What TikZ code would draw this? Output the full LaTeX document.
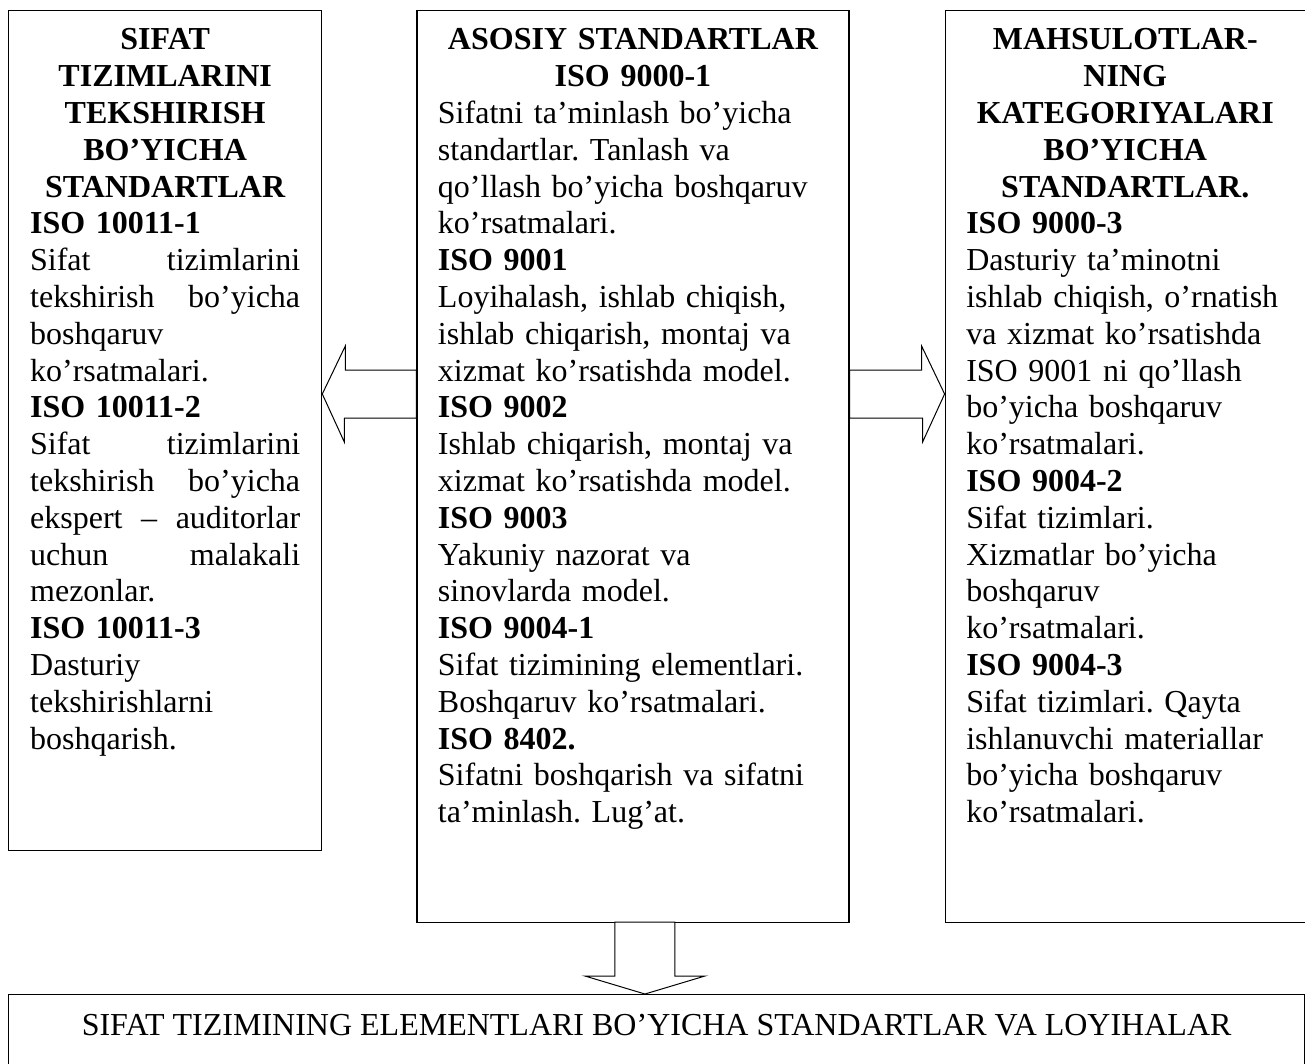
\documentclass[tikz,border=0pt]{standalone}
\usepackage{fontspec}
\setmainfont{Liberation Serif}
\usetikzlibrary{positioning}
\setlength{\parindent}{0pt}
\frenchspacing

\tikzstyle{box} = [draw, rectangle, line width=1.3pt, anchor=north west, inner sep=0pt]
\tikzstyle{txt} = [inner sep=0pt, align=left, font=\fontsize{32pt}{36.8pt}\selectfont]
\tikzstyle{blockarrow} = [draw, line width=1pt, fill=white]

\begin{document}
\begin{tikzpicture}[x=1pt, y=-1pt]
      \path [use as bounding box, clip] (0,0) rectangle (1305,1064);
      % Place boxes
      \node [box, minimum width=313, minimum height=840] (left) at (8,10) {};
      \node [box, minimum width=432, minimum height=912, right=94pt of left.north east, anchor=north west] (mid) {};
      \node [box, minimum width=360, minimum height=912, right=95pt of mid.north east, anchor=north west] (right) {};
      \node [box, minimum width=1296, minimum height=110] (bottom) at (8,994) {};

      % Texts in the boxes
      \node [txt, text width=270pt, below=14pt of left.north] (lefttxt) {%
        {\centering\bfseries\strut SIFAT\\ TIZIMLARINI\\ TEKSHIRISH\\ BO’YICHA\\ STANDARTLAR\par}
        \textbf{ISO 10011-1}\\
        Sifat\hfill tizimlarini\\
        tekshirish\hfill bo’yicha\\
        boshqaruv\\
        ko’rsatmalari.\\
        \textbf{ISO 10011-2}\\
        Sifat\hfill tizimlarini\\
        tekshirish\hfill bo’yicha\\
        ekspert\hfill –\hfill auditorlar\\
        uchun\hfill malakali\\
        mezonlar.\\
        \textbf{ISO 10011-3}\\
        Dasturiy\\
        tekshirishlarni\\
        boshqarish.};
      \node [txt, text width=390pt, below=14pt of mid.north] (midtxt) {%
        {\centering\bfseries\strut ASOSIY STANDARTLAR\\ ISO 9000-1\par}
        Sifatni ta’minlash bo’yicha\\
        standartlar. Tanlash va\\
        qo’llash bo’yicha boshqaruv\\
        ko’rsatmalari.\\
        \textbf{ISO 9001}\\
        Loyihalash, ishlab chiqish,\\
        ishlab chiqarish, montaj va\\
        xizmat ko’rsatishda model.\\
        \textbf{ISO 9002}\\
        Ishlab chiqarish, montaj va\\
        xizmat ko’rsatishda model.\\
        \textbf{ISO 9003}\\
        Yakuniy nazorat va\\
        sinovlarda model.\\
        \textbf{ISO 9004-1}\\
        Sifat tizimining elementlari.\\
        Boshqaruv ko’rsatmalari.\\
        \textbf{ISO 8402.}\\
        Sifatni boshqarish va sifatni\\
        ta’minlash. Lug’at.};
      \node [txt, text width=318pt, below=14pt of right.north] (righttxt) {%
        {\centering\bfseries\strut MAHSULOTLAR-\\ NING\\ KATEGORIYALARI\\ BO’YICHA\\ STANDARTLAR.\par}
        \textbf{ISO 9000-3}\\
        Dasturiy ta’minotni\\
        ishlab chiqish, o’rnatish\\
        va xizmat ko’rsatishda\\
        ISO 9001 ni qo’llash\\
        bo’yicha boshqaruv\\
        ko’rsatmalari.\\
        \textbf{ISO 9004-2}\\
        Sifat tizimlari.\\
        Xizmatlar bo’yicha\\
        boshqaruv\\
        ko’rsatmalari.\\
        \textbf{ISO 9004-3}\\
        Sifat tizimlari. Qayta\\
        ishlanuvchi materiallar\\
        bo’yicha boshqaruv\\
        ko’rsatmalari.};
      \node [txt, anchor=base] (bottomtxt) at ([yshift=-41pt]bottom.north) {SIFAT TIZIMINING ELEMENTLARI BO’YICHA STANDARTLAR VA LOYIHALAR};

      % Draw block arrows
      \coordinate (dn) at ([xshift=12pt]mid.south);
      \draw [blockarrow] (left.east |- 0,394) -- ++(23,-48) -- ++(0,24) -- (mid.west |- 0,370) -- (mid.west |- 0,418) -- ++(-72,0) -- ++(0,24) -- cycle;
      \draw [blockarrow] (right.west |- 0,394) -- ++(-23,-48) -- ++(0,24) -- (mid.east |- 0,370) -- (mid.east |- 0,418) -- ++(73,0) -- ++(0,24) -- cycle;
      \draw [blockarrow] (dn |- bottom.north) -- ++(-60,-18) -- ++(30,0) -- ++(0,-54) -- ++(60,0) -- ++(0,54) -- ++(30,0) -- cycle;
\end{tikzpicture}
\end{document}
